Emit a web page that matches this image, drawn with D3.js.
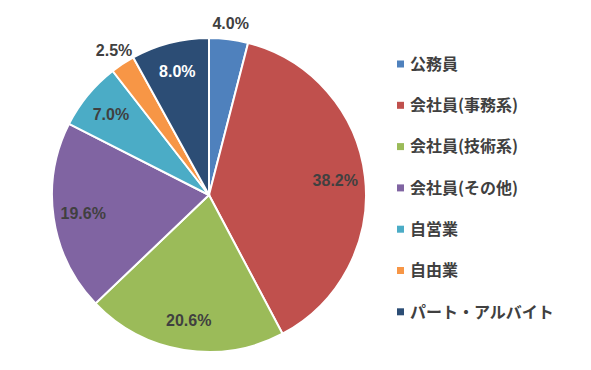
<!DOCTYPE html>
<html>
<head>
<meta charset="utf-8">
<script src="https://cdn.jsdelivr.net/npm/d3@7"></script>
<style>
  body { margin: 0; background: #fff; }
</style>
</head>
<body>
<script>
// categories and shares (%)
const categories = ["公務員", "会社員(事務系)", "会社員(技術系)", "会社員(その他)", "自営業", "自由業", "パート・アルバイト"]
const shares = [4.0, 38.2, 20.6, 19.6, 7.0, 2.5, 8.0]
const colors = ["#4f81bd", "#c0504d", "#9bbb59", "#8064a2", "#4bacc6", "#f79646", "#2c4d75"]
// which labels sit outside the pie (small slices)
const outsideLabel = [true, false, false, false, false, true, false]

const width = 591, height = 370
const cx = 209, cy = 195, radius = 157

let svg = d3.select("body").append("svg")
    .attr("width", width).attr("height", height)
    .style("font-family", "'Liberation Sans', Arial, sans-serif")

let data = categories.map((c, i) => ({ name: c, value: shares[i], color: colors[i], outside: outsideLabel[i] }))

let pie = d3.pie().sort(null).value(d => d.value)
let arc = d3.arc().innerRadius(0).outerRadius(radius)
let arcs = pie(data)

let g = svg.append("g").attr("transform", "translate(" + cx + "," + cy + ")")

g.selectAll("path")
    .data(arcs).enter().append("path")
    .attr("d", arc)
    .attr("fill", d => d.data.color)
    .attr("stroke", "#fff")
    .attr("stroke-width", 2)

// label positions
let inArc = d3.arc().innerRadius(radius * 0.81).outerRadius(radius * 0.81)
let outArc = d3.arc().innerRadius(radius * 1.1).outerRadius(radius * 1.1)

g.selectAll("text.pct")
    .data(arcs).enter().append("text")
    .attr("class", "pct")
    .attr("transform", d => "translate(" + (d.data.outside ? outArc : inArc).centroid(d) + ")")
    .attr("text-anchor", "middle")
    .attr("dy", "0.35em")
    .style("font-size", "16px")
    .style("font-weight", "bold")
    .attr("fill", d => d.data.color == "#2c4d75" ? "#fff" : "#404040")
    .text(d => d.data.value.toFixed(1) + "%")

// legend
let legend = svg.append("g").attr("transform", "translate(397,64)")
let rowStep = 41.3

let rows = legend.selectAll("g")
    .data(data).enter().append("g")
    .attr("transform", (d, i) => "translate(0," + (i * rowStep) + ")")

rows.append("rect")
    .attr("x", 0).attr("y", -3.5)
    .attr("width", 7).attr("height", 7)
    .attr("fill", d => d.color)

rows.append("text")
    .attr("x", 13).attr("dy", "0.36em")
    .style("font-family", "'Noto Sans CJK JP', sans-serif")
    .style("font-size", "16px")
    .style("font-weight", "bold")
    .attr("fill", "#404040")
    .text(d => d.name)
</script>
</body>
</html>
